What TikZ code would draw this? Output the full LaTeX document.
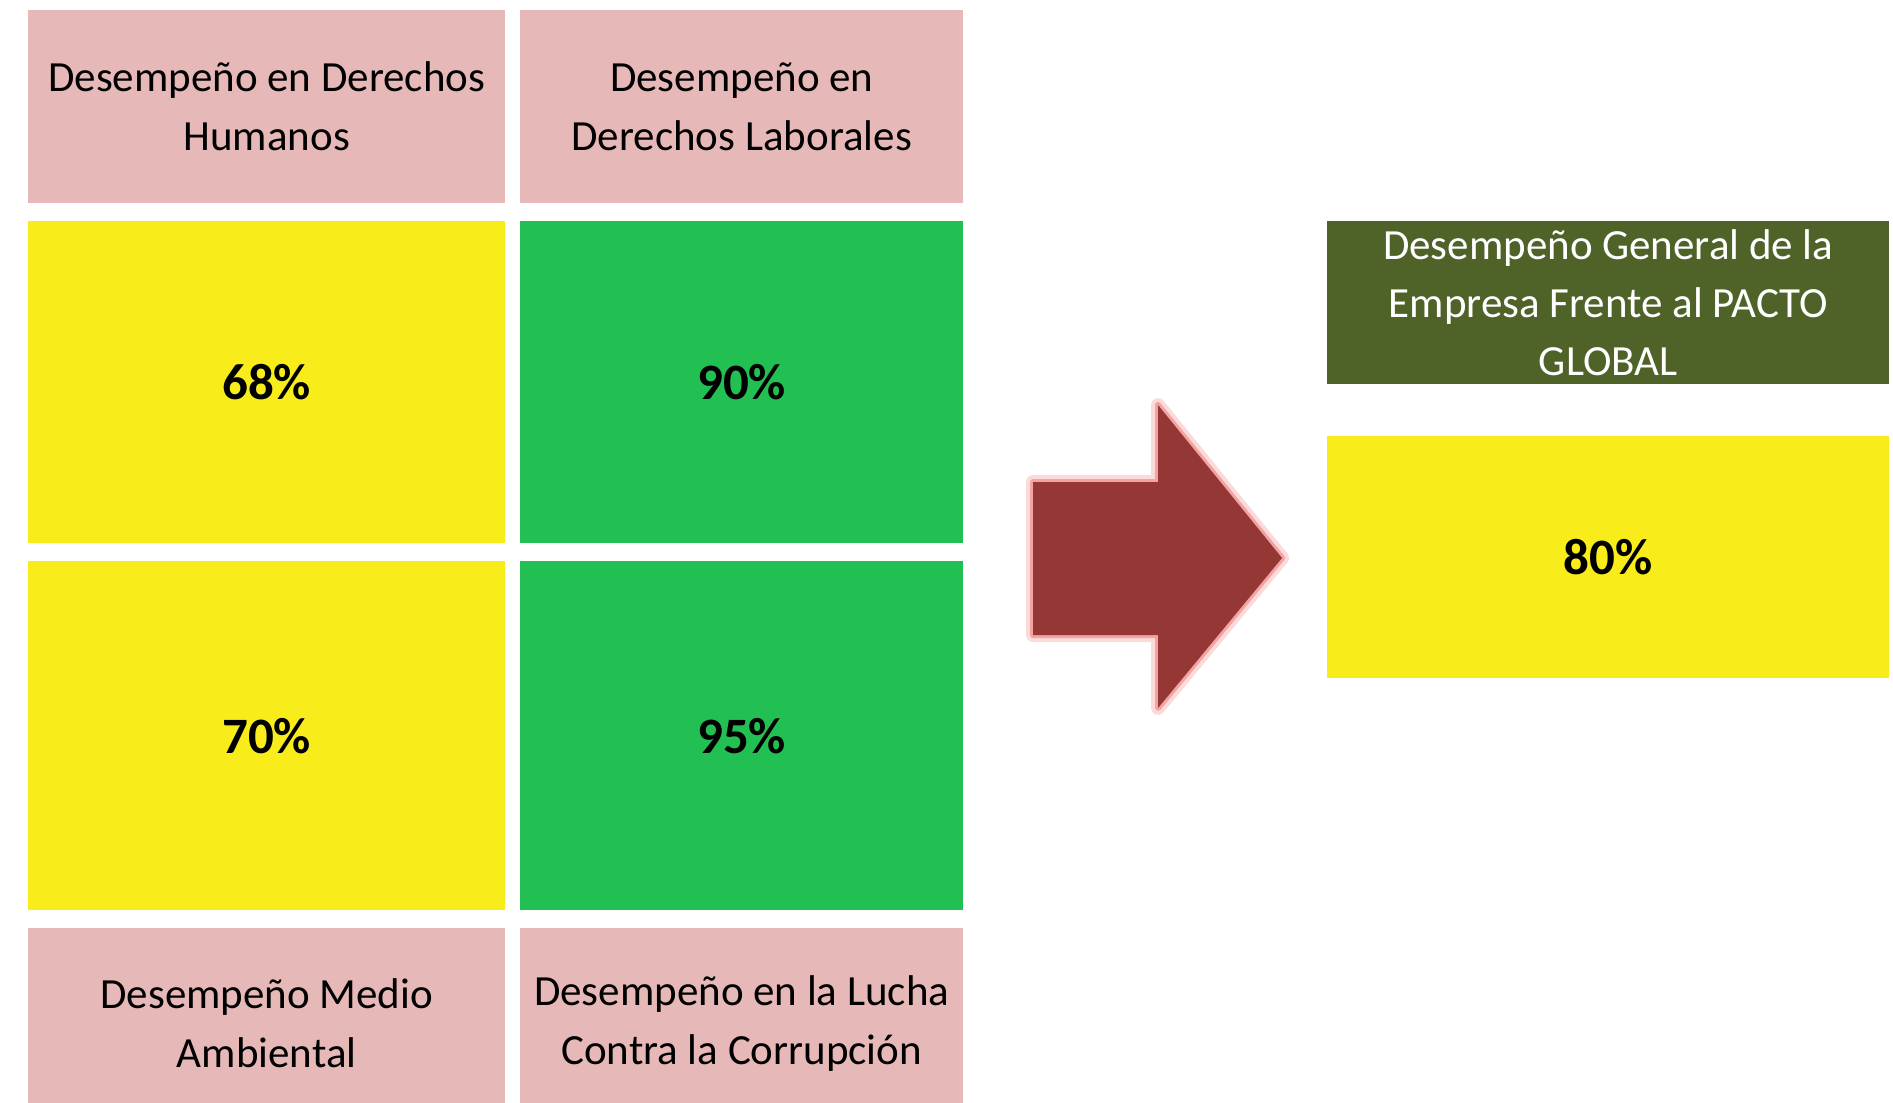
\documentclass[tikz,border=0pt]{standalone}
\usepackage{fontspec}
\setmainfont{Carlito}
\definecolor{rosa}{HTML}{E6B8B7}
\definecolor{amarillo}{HTML}{F8EC1A}
\definecolor{verde}{HTML}{22BF52}
\definecolor{oliva}{HTML}{4F6228}
\definecolor{flecha}{HTML}{953735}
\definecolor{brillo}{HTML}{F4A3A3}
\tikzset{
	celda/.style = {anchor = north west, inner sep = 0pt, align = center},
	titulo/.style = {celda, fill = rosa, font = \fontsize{43}{59}\selectfont},
	valor/.style = {celda, font = \fontsize{51}{60}\selectfont\bfseries}
}

\begin{document}
\begin{tikzpicture}[x = 1pt, y = -1pt]
	\useasboundingbox (0,0) rectangle (1893,1103);
	% encabezados
	\node [titulo, minimum width = 477pt, minimum height = 193pt] (dh) at (28,10) {Desempeño en Derechos\\Humanos};
	\node [titulo, minimum width = 443pt, minimum height = 193pt] (dl) at (520,10) {Desempeño en\\Derechos Laborales};
	\node [titulo, minimum width = 477pt, minimum height = 190pt] (ma) at (28,928) {Desempeño Medio\\Ambiental};
	\node [titulo, minimum width = 443pt, minimum height = 190pt] (lc) at (520,928) {Desempeño en la Lucha\\Contra la Corrupción};
	% porcentajes
	\foreach \n/\x/\y/\w/\h/\c/\t in {p1/28/221/477/322/amarillo/68, p2/520/221/443/322/verde/90, p3/28/561/477/349/amarillo/70, p4/520/561/443/349/verde/95}
	\node [valor, fill = \c, minimum width = \w pt, minimum height = \h pt] (\n) at (\x,\y) {\t\%};
	% flecha
	\draw [brillo, opacity = 0.4, line width = 14pt, line join = round] (1033,482) -- (1158,482) -- (1158,405) -- (1282,558) -- (1158,708) -- (1158,635) -- (1033,635) -- cycle;
	\draw [brillo, line width = 6pt, line join = round] (1033,482) -- (1158,482) -- (1158,405) -- (1282,558) -- (1158,708) -- (1158,635) -- (1033,635) -- cycle;
	\fill [flecha] (1033,482) -- (1158,482) -- (1158,405) -- (1282,558) -- (1158,708) -- (1158,635) -- (1033,635) -- cycle;
	% resultado
	\node [celda, fill = oliva, text = white, font = \fontsize{43}{58}\selectfont, minimum width = 562pt, minimum height = 163pt] (pg) at (1327,221) {Desempeño General de la\\Empresa Frente al PACTO\\GLOBAL};
	\node [valor, fill = amarillo, minimum width = 562pt, minimum height = 242pt] (total) at (1327,436) {80\%};
\end{tikzpicture}
\end{document}
